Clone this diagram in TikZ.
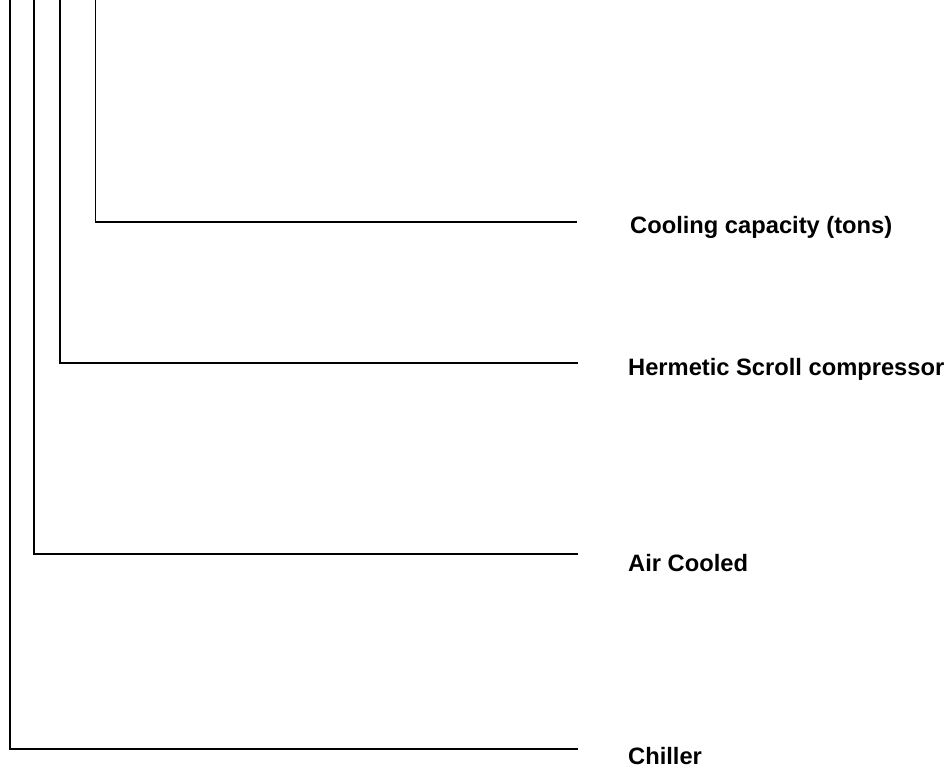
\documentclass[tikz,border=0pt]{standalone}
\usepackage{fontspec}
\setmainfont{Liberation Sans}
\begin{document}
\begin{tikzpicture}[x=1pt,y=-1pt,
  branch/.style={line width=1.7pt,black},
  lab/.style={anchor=base west,inner sep=0pt,font=\bfseries\fontsize{23.7}{28}\selectfont}]
\useasboundingbox (0,0) rectangle (952,772);
% tops
\coordinate (t1) at (10,-2);
\coordinate (t2) at (34,-2);
\coordinate (t3) at (60,-2);
\coordinate (t4) at (95.5,-2);
% corners
\coordinate (c1) at (10,748.7);
\coordinate (c2) at (34,554);
\coordinate (c3) at (60,363);
\coordinate (c4) at (95.5,222);
% ends
\coordinate (e1) at (578,748.7);
\coordinate (e2) at (578,554);
\coordinate (e3) at (578,363);
\coordinate (e4) at (577,222);
\draw[branch] (t1) -- (c1) -- (e1);
\draw[branch] (t2) -- (c2) -- (e2);
\draw[branch] (t3) -- (c3) -- (e3);
\draw[branch] (t4) -- (c4) -- (e4);
\node[lab] (l1) at (628,764) {Chiller};
\node[lab] (l2) at (628,571) {Air Cooled};
\node[lab] (l3) at (628,375) {Hermetic Scroll compressor};
\node[lab] (l4) at (630,233) {Cooling capacity (tons)};
\end{tikzpicture}
\end{document}
